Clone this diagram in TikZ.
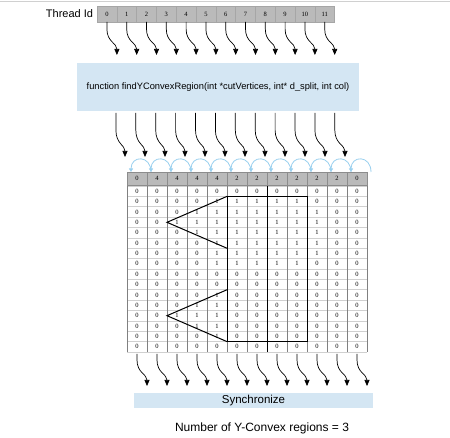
\documentclass[tikz,border=0pt]{standalone}
\usepackage{fontspec}
\setmainfont{Liberation Serif}
\setsansfont{Liberation Sans}
\usetikzlibrary{arrows.meta,positioning,calc}
\definecolor{softblue}{HTML}{D4E6F3}
\definecolor{arcblue}{HTML}{9AD0EE}
\definecolor{cellgray}{HTML}{BABABA}
\definecolor{linegray}{HTML}{D0D0D0}

\begin{document}
\begin{tikzpicture}[x=1pt, y=-1pt, >={Triangle[length=6pt,width=5pt]},
  every node/.style={inner sep=0pt, outer sep=0pt},
  tid/.style={draw=gray!70, fill=cellgray, minimum width=19.8pt, minimum height=16pt, font=\fontsize{6.5}{7}\selectfont},
  hdr/.style={draw=gray!90, fill=cellgray, minimum width=20pt, minimum height=13pt, font=\fontsize{6.5}{7}\selectfont},
  bit/.style={minimum width=20pt, minimum height=10.375pt, font=\fontsize{6.5}{7}\selectfont},
  fbox/.style={fill=softblue},
  wire/.style={->, line width=0.7pt},
  barc/.style={-{Triangle[length=3.5pt,width=4pt]}, arcblue, line width=0.8pt},
  region/.style={line width=1pt}]
  \useasboundingbox (0,0) rectangle (450,438);
  \draw[linegray, line width=0.6pt] (0,1) -- (450,1);

  % thread ids
  \foreach \i in {0,...,11}
    \node[tid] (t\i) at (106.9+19.8*\i, 14) {\i};
  \node[font=\sffamily\fontsize{11}{13}\selectfont, left=4pt of t0] (tlabel) {Thread Id};
  \foreach \i in {0,...,11} {
    \coordinate (ta\i) at ($(t\i.south)+(10,33)$);
    \draw[wire] (t\i.south) -- ++(0,7) .. controls +(0,13) and +(0,-12) .. (ta\i);
  }

  % kernel
  \node[fbox, minimum width=282pt, minimum height=48pt, font=\sffamily\fontsize{9.3}{11}\selectfont] (fn) at (218,87)
    {function findYConvexRegion(int *cutVertices, int* d\_split, int col)};

  % column header
  \foreach \v [count=\c] in {0,4,4,4,4,2,2,2,2,2,2,0}
    \node[hdr] (h\c) at (117+20*\c, 178.5) {\v};
  \foreach \c in {1,...,12} {
    \coordinate (mt\c) at ($(h\c.north west)+(-2,-15)$);
    \draw[wire] ([shift={(19+19.9*\c,2)}]fn.south west) -- ++(0,17) .. controls +(0,14) and +(0,-12) .. (mt\c);
    \draw[barc] ([xshift=24pt]h\c.north west) .. controls +(0,-17) and +(0,-17) .. ([xshift=4pt]h\c.north west);
  }

  % cutVertices matrix
  \foreach \r in {0,...,16}
    \draw[linegray, line width=0.5pt] (127,186+10.375*\r) -- (367,186+10.375*\r);
  \foreach \c in {0,...,12}
    \draw[gray, line width=0.5pt] (127+20*\c,186) -- (127+20*\c,352);
  \foreach \row [count=\r] in {
      {0,0,0,0,0,0,0,0,0,0,0,0},
      {0,0,0,0,1,1,1,1,1,0,0,0},
      {0,0,0,1,1,1,1,1,1,1,0,0},
      {0,0,1,1,1,1,1,1,1,1,0,0},
      {0,0,0,1,1,1,1,1,1,1,0,0},
      {0,0,0,0,1,1,1,1,1,1,0,0},
      {0,0,0,0,1,1,1,1,1,1,0,0},
      {0,0,0,0,1,1,1,1,1,0,0,0},
      {0,0,0,0,0,0,0,0,0,0,0,0},
      {0,0,0,0,0,0,0,0,0,0,0,0},
      {0,0,0,0,1,0,0,0,0,0,0,0},
      {0,0,0,1,1,0,0,0,0,0,0,0},
      {0,0,1,1,1,0,0,0,0,0,0,0},
      {0,0,0,1,1,0,0,0,0,0,0,0},
      {0,0,0,0,1,0,0,0,0,0,0,0},
      {0,0,0,0,0,0,0,0,0,0,0,0}}
    \foreach \v [count=\c] in \row
      \node[bit] (b\r-\c) at (117+20*\c, 180.8125+10.375*\r) {\v};

  % regions
  \draw[region] (b2-5.north east) rectangle (b15-9.south east);
  \draw[region] (b1-7.north east) -- (b16-7.south east);
  \draw[region] (b2-5.north east) -- (b4-3.west) -- (b6-5.south east);
  \draw[region] (b11-5.north east) -- (b13-3.west) -- (b15-5.south east);

  % synchronize
  \node[fbox, minimum width=239pt, minimum height=15pt, font=\sffamily\fontsize{11.5}{13}\selectfont] (sync) at (253.5,400.5) {Synchronize};
  \foreach \c in {1,...,12} {
    \coordinate (ba\c) at ($(b16-\c.south)+(10,34)$);
    \draw[wire] ([yshift=-2pt]b16-\c.south) -- ++(0,6) .. controls +(0,13) and +(0,-12) .. (ba\c);
  }
  \node[font=\sffamily\fontsize{12}{14}\selectfont] (count) at (262,428) {Number of Y-Convex regions = 3};
\end{tikzpicture}
\end{document}
